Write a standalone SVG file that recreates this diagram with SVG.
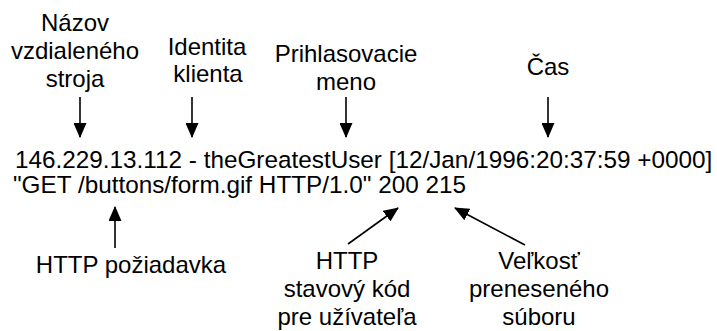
<svg xmlns="http://www.w3.org/2000/svg" width="717" height="331" viewBox="0 0 717 331">
<style>
text{font-family:"Liberation Sans",Arial,Helvetica,sans-serif;font-size:24px;fill:#000}
.m{font-size:24.3px}
.c{text-anchor:middle}
.a{stroke:#000;stroke-width:1.6;fill:none;marker-end:url(#ah)}
</style>
<defs>
<marker id="ah" markerUnits="userSpaceOnUse" markerWidth="15" markerHeight="13" refX="14" refY="6.5" orient="auto" viewBox="0 0 15 13">
<path d="M0,0 L15,6.5 L0,13 z" fill="#000"/>
</marker>
</defs>
<rect width="717" height="331" fill="#fff"/>
<g id="log">
<text class="m" x="15" y="168">146.229.13.112 - theGreatestUser [12/Jan/1996:20:37:59 +0000]</text>
<text class="m" x="13" y="193">"GET /buttons/form.gif HTTP/1.0" 200 215</text>
</g>
<g id="host">
<text class="c" x="75" y="31">Názov</text>
<text class="c" x="75" y="59">vzdialeného</text>
<text class="c" x="75" y="87">stroja</text>
</g>
<g id="ident">
<text class="c" x="207" y="55">Identita</text>
<text class="c" x="208" y="82">klienta</text>
</g>
<g id="user">
<text class="c" x="346" y="62">Prihlasovacie</text>
<text class="c" x="346" y="90">meno</text>
</g>
<g id="time">
<text class="c" x="548" y="75">Čas</text>
</g>
<g id="request">
<text class="c" x="131" y="273">HTTP požiadavka</text>
</g>
<g id="status">
<text class="c" x="347" y="269">HTTP</text>
<text class="c" x="347" y="297">stavový kód</text>
<text class="c" x="347" y="325">pre užívateľa</text>
</g>
<g id="size">
<text class="c" x="539" y="269">Veľkosť</text>
<text class="c" x="539" y="297">preneseného</text>
<text class="c" x="539" y="325">súboru</text>
</g>
<g id="connectors">
<line class="a" x1="80" y1="97" x2="80" y2="137"/>
<line class="a" x1="192" y1="97" x2="192" y2="137"/>
<line class="a" x1="346" y1="97" x2="346" y2="137"/>
<line class="a" x1="548" y1="97" x2="548" y2="137"/>
<line class="a" x1="115" y1="248" x2="115" y2="207"/>
<line class="a" x1="348" y1="244" x2="398" y2="208"/>
<line class="a" x1="525" y1="245" x2="455" y2="208"/>
</g>
</svg>
